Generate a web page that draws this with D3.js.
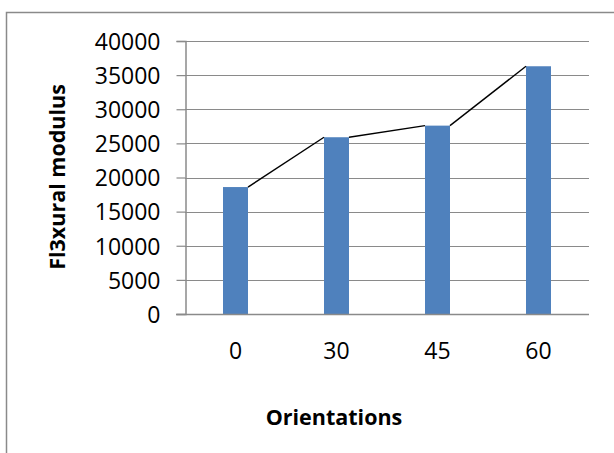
<!DOCTYPE html>
<html>
<head>
<meta charset="utf-8">
<script src="https://cdn.jsdelivr.net/npm/d3@7"></script>
<style>
  html, body { margin: 0; padding: 0; background: #fff; }
  svg { display: block; }
  text { font-family: "Open Sans", "Liberation Sans", sans-serif; fill: #000; }
</style>
</head>
<body>
<svg id="chart" width="614" height="453"></svg>
<script>
const categories = ["0", "30", "45", "60"];
const values = [18600, 25900, 27600, 36300];
const yTicks = [0, 5000, 10000, 15000, 20000, 25000, 30000, 35000, 40000];
const xTitle = "Orientations";
const yTitle = "Fl3xural modulus";

const svg = d3.select("#chart");
const pLeft = 185, pRight = 589, pTop = 41, pBottom = 314;
const gridColor = "#8a8a8a";

// outer chart border (extends past right/bottom edges)
svg.append("rect")
  .attr("x", 6.5).attr("y", 12.5)
  .attr("width", 700).attr("height", 600)
  .attr("fill", "#fff").attr("stroke", "#8a8a8a").attr("stroke-width", 1.5);

const x = d3.scaleBand().domain(categories).range([pLeft, pRight])
  .paddingInner(0.7525).paddingOuter(0.37625);
const y = d3.scaleLinear().domain([0, 40000]).range([pBottom, pTop]);

// gridlines
svg.append("g").selectAll("line").data(yTicks.filter(d => d > 0)).join("line")
  .attr("x1", pLeft).attr("x2", pRight)
  .attr("y1", d => Math.round(y(d)) + 0.5).attr("y2", d => Math.round(y(d)) + 0.5)
  .attr("stroke", gridColor).attr("stroke-width", 1.2);

// y axis
const yAxis = d3.axisLeft(y).tickValues(yTicks).tickSize(9).tickPadding(16).tickFormat(d3.format("d"));
const gy = svg.append("g").attr("transform", `translate(${pLeft + 0.5},0)`).call(yAxis);
gy.select(".domain").attr("stroke", gridColor).attr("stroke-width", 1.5);
gy.selectAll(".tick line").attr("stroke", gridColor).attr("stroke-width", 1.2);
gy.selectAll(".tick text").attr("font-size", 23).attr("font-family", "'Open Sans', sans-serif").attr("fill", "#000").attr("dy", "0.36em");

// bars
svg.append("g").selectAll("rect").data(values).join("rect")
  .attr("x", (d, i) => x(categories[i]))
  .attr("y", d => y(d))
  .attr("width", x.bandwidth())
  .attr("height", d => pBottom - y(d))
  .attr("fill", "#4F81BD");

// series lines: right top corner of bar i to left top corner of bar i+1
const segs = d3.pairs(values.map((v, i) => ({ v, c: categories[i] })));
svg.append("g").selectAll("line").data(segs).join("line")
  .attr("x1", d => x(d[0].c) + x.bandwidth())
  .attr("y1", d => y(d[0].v))
  .attr("x2", d => x(d[1].c))
  .attr("y2", d => y(d[1].v))
  .attr("stroke", "#000").attr("stroke-width", 1.4);

// x axis
const xAxis = d3.axisBottom(x).tickSize(0).tickPadding(28);
const gx = svg.append("g").attr("transform", `translate(0,${pBottom + 0.5})`).call(xAxis);
gx.select(".domain").attr("stroke", gridColor).attr("stroke-width", 1.5)
  .attr("d", `M${pLeft - 9},0H${pRight}`);
gx.selectAll(".tick text").attr("font-size", 23).attr("font-family", "'Open Sans', sans-serif").attr("fill", "#000");

// axis titles
svg.append("text").attr("x", 334).attr("y", 425)
  .attr("text-anchor", "middle").attr("font-size", 21.5).attr("font-weight", "bold")
  .text(xTitle);
svg.append("text").attr("transform", "translate(65,177) rotate(-90)")
  .attr("text-anchor", "middle").attr("font-size", 21.5).attr("font-weight", "bold")
  .text(yTitle);
</script>
</body>
</html>
